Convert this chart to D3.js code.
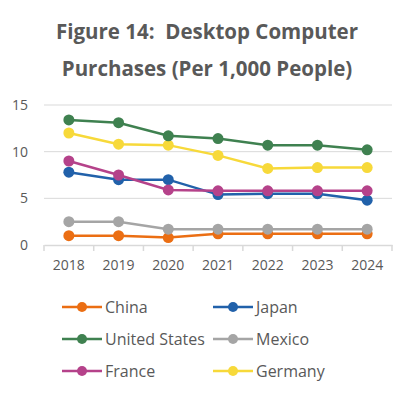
<!DOCTYPE html>
<html>
<head>
<meta charset="utf-8">
<script src="https://cdn.jsdelivr.net/npm/d3@7"></script>
<style>
  body { margin: 0; background: #fff; }
  text { font-family: "Open Sans", sans-serif; fill: #595959; white-space: pre; }
</style>
</head>
<body>
<script>
var w = 414;
var h = 398;

var years = ["2018", "2019", "2020", "2021", "2022", "2023", "2024"];
var yTicks = [0, 5, 10, 15];

var china = [1.0, 1.0, 0.8, 1.2, 1.2, 1.2, 1.2];
var japan = [7.8, 7.0, 7.0, 5.4, 5.5, 5.5, 4.8];
var unitedStates = [13.4, 13.1, 11.7, 11.4, 10.7, 10.7, 10.2];
var mexico = [2.5, 2.5, 1.7, 1.7, 1.7, 1.7, 1.7];
var france = [9.0, 7.5, 5.9, 5.8, 5.8, 5.8, 5.8];
var germany = [12.0, 10.8, 10.7, 9.6, 8.2, 8.3, 8.3];

var seriesNames = ["China", "Japan", "United States", "Mexico", "France", "Germany"];
var seriesValues = [china, japan, unitedStates, mexico, france, germany];
var seriesColors = ["#EB6E13", "#2161AA", "#3F8150", "#A5A5A5", "#B5428A", "#F7D93A"];

var svg = d3.select("body").append("svg")
    .attr("width", w)
    .attr("height", h);

// Title
svg.append("text")
    .attr("x", 207)
    .attr("y", 39)
    .attr("text-anchor", "middle")
    .attr("font-size", 20.5)
    .attr("font-weight", "bold")
    .text("Figure 14:  Desktop Computer");
svg.append("text")
    .attr("x", 207)
    .attr("y", 76)
    .attr("text-anchor", "middle")
    .attr("font-size", 20.5)
    .attr("font-weight", "bold")
    .text("Purchases (Per 1,000 People)");

var x = d3.scaleBand().domain(years).range([44, 392]);
var y = d3.scaleLinear().domain([0, 15]).range([245, 105]);

// Gridlines
svg.append("g")
    .selectAll("line")
    .data(yTicks.filter(function(d) { return d > 0; }))
    .join("line")
    .attr("x1", 44)
    .attr("x2", 392)
    .attr("y1", function(d) { return y(d); })
    .attr("y2", function(d) { return y(d); })
    .attr("stroke", "#D9D9D9")
    .attr("stroke-width", 1);

// y labels
svg.append("g")
    .selectAll("text")
    .data(yTicks)
    .join("text")
    .attr("x", 28)
    .attr("y", function(d) { return y(d); })
    .attr("dy", "0.35em")
    .attr("text-anchor", "end")
    .attr("font-size", 14)
    .text(function(d) { return d; });

// x axis
var xAxis = svg.append("g")
    .attr("transform", "translate(0,245)")
    .call(d3.axisBottom(x).tickSize(0).tickPadding(15));
xAxis.select(".domain").attr("stroke", "#D9D9D9").attr("stroke-width", 1.5);
xAxis.selectAll("text")
    .attr("font-size", 14)
    .attr("font-family", "Open Sans, sans-serif")
    .attr("fill", "#595959");

var bounds = years.map(function(d) { return x(d); }).concat([x.range()[1]]);
svg.append("g")
    .selectAll("line")
    .data(bounds)
    .join("line")
    .attr("x1", function(d) { return d; })
    .attr("x2", function(d) { return d; })
    .attr("y1", 245)
    .attr("y2", 251)
    .attr("stroke", "#D9D9D9")
    .attr("stroke-width", 1.5);

// Lines and markers
var line = d3.line()
    .x(function(d, i) { return x(years[i]) + x.bandwidth() / 2; })
    .y(function(d) { return y(d); });

var drawOrder = [0, 3, 1, 4, 5, 2];
drawOrder.forEach(function(s) {
    var g = svg.append("g");
    g.append("path")
        .datum(seriesValues[s])
        .attr("d", line)
        .attr("fill", "none")
        .attr("stroke", seriesColors[s])
        .attr("stroke-width", 2.5);
    g.selectAll("circle")
        .data(seriesValues[s])
        .join("circle")
        .attr("cx", function(d, i) { return x(years[i]) + x.bandwidth() / 2; })
        .attr("cy", function(d) { return y(d); })
        .attr("r", 5.5)
        .attr("fill", seriesColors[s]);
});

// Legend
var legend = svg.append("g")
    .selectAll("g")
    .data(seriesNames)
    .join("g")
    .attr("transform", function(d, i) {
        var col = i % 2;
        var row = Math.floor(i / 2);
        return "translate(" + (62 + col * 151) + "," + (307 + row * 32) + ")";
    });
legend.append("line")
    .attr("x1", 0)
    .attr("x2", 40)
    .attr("stroke", function(d, i) { return seriesColors[i]; })
    .attr("stroke-width", 2.5);
legend.append("circle")
    .attr("cx", 20)
    .attr("r", 5)
    .attr("fill", function(d, i) { return seriesColors[i]; });
legend.append("text")
    .attr("x", 43)
    .attr("dy", "0.35em")
    .attr("font-size", 16)
    .text(function(d) { return d; });
</script>
</body>
</html>
